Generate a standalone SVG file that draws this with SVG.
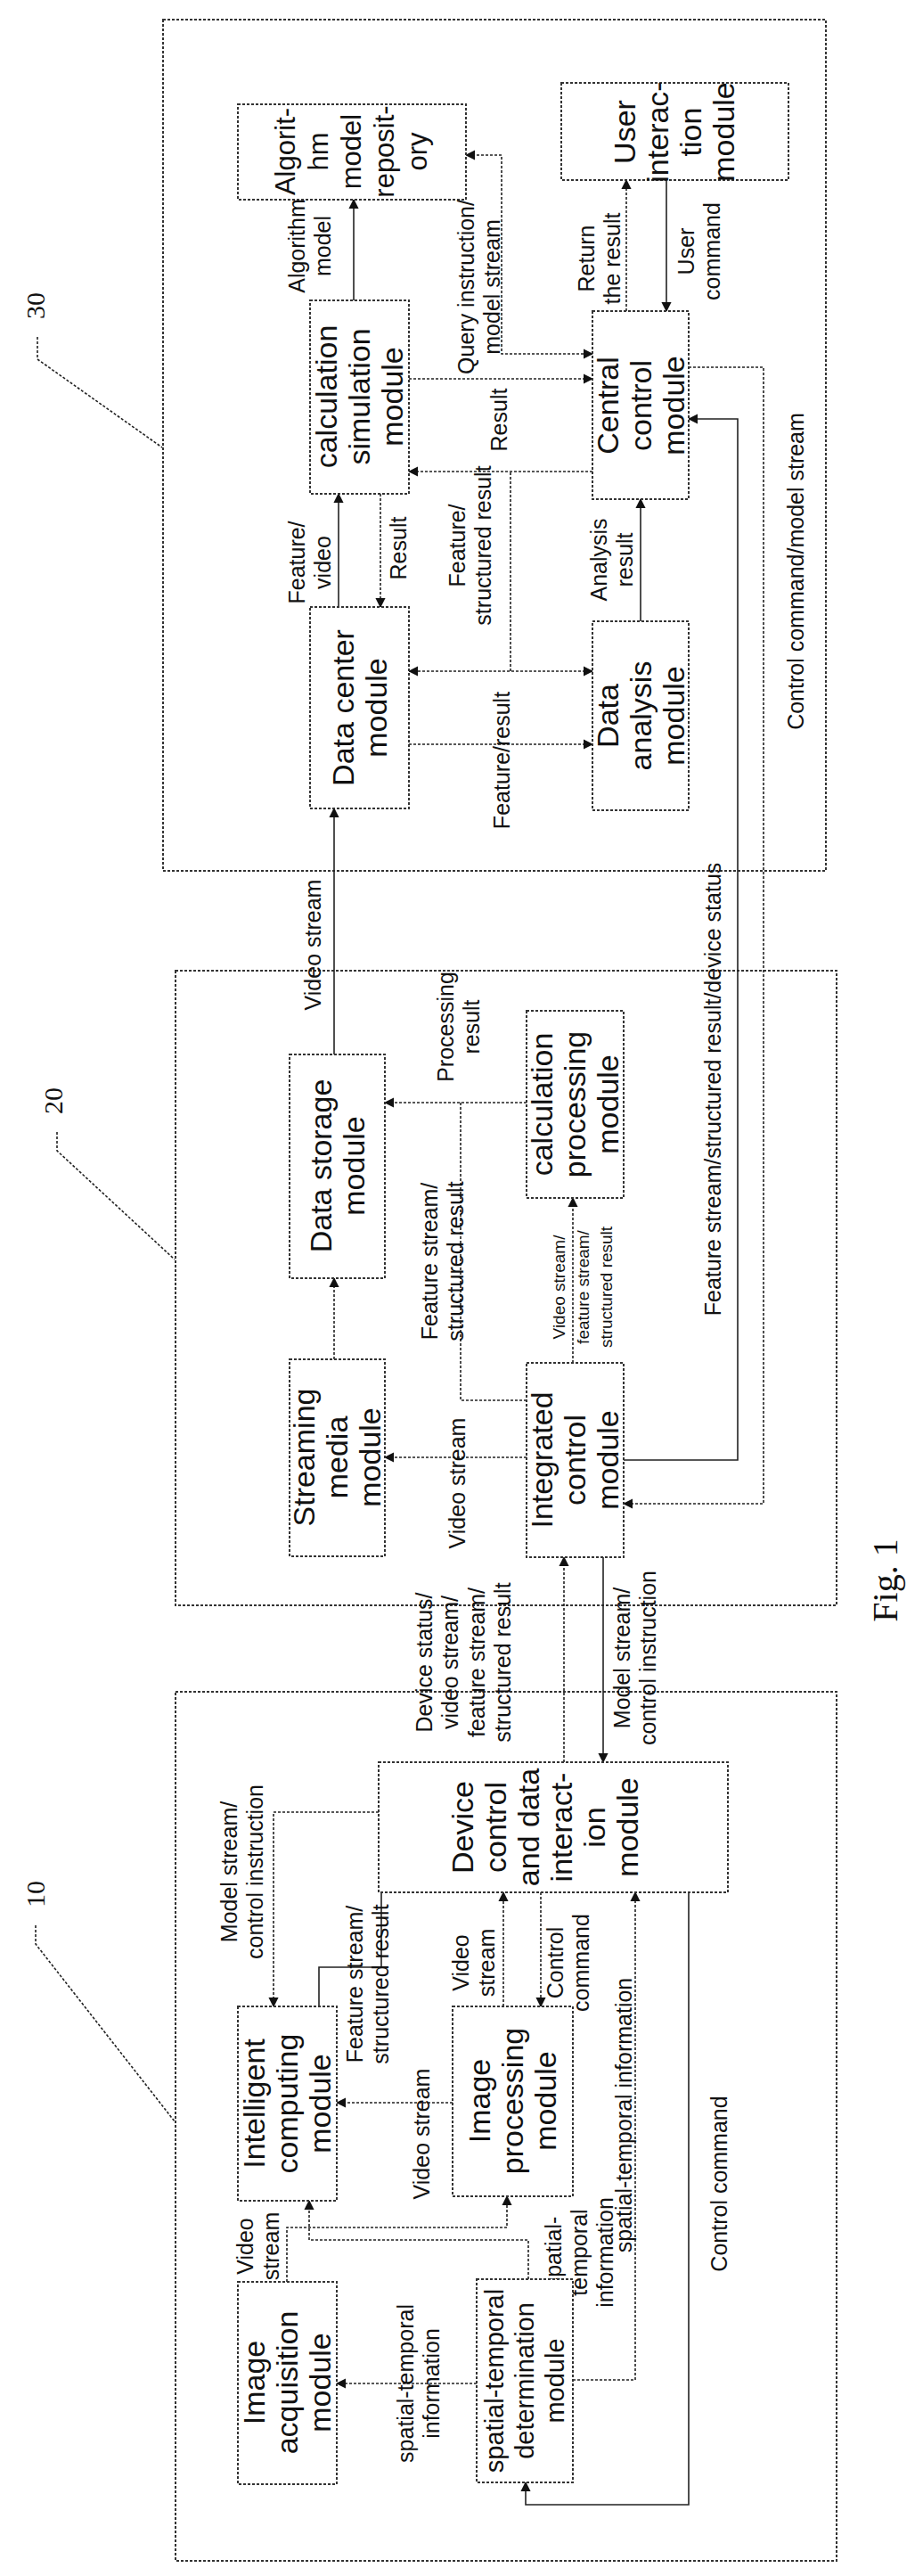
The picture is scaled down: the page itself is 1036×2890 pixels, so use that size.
<svg xmlns="http://www.w3.org/2000/svg" width="1036" height="2890" viewBox="0 0 1036 2890">
<style>
.box{fill:none;stroke:#333;stroke-width:2;stroke-dasharray:3 2}
.n{fill:#fff;stroke:#333;stroke-width:2;stroke-dasharray:3 2}
.c{fill:none;stroke:#222;stroke-width:1.6;stroke-dasharray:3 2}
.s{fill:none;stroke:#222;stroke-width:1.6}
.nt{font-family:"Liberation Sans",Arial,sans-serif;font-size:34px;fill:#111;text-anchor:middle}
.et{font-family:"Liberation Sans",Arial,sans-serif;font-size:25px;fill:#111;text-anchor:middle}
.st{font-family:"Liberation Sans",Arial,sans-serif;font-size:19px;fill:#111;text-anchor:middle}
.rf{font-family:"Liberation Serif","Times New Roman",serif;font-size:30px;fill:#111;text-anchor:middle}
</style>
<defs>
<marker id="a" viewBox="0 0 10 10" refX="9" refY="5" markerWidth="7" markerHeight="7" orient="auto-start-reverse"><path d="M0,0 L10,5 L0,10 z" fill="#111"/></marker>
</defs>
<rect width="1036" height="2890" fill="#fff"/>
<g id="frames">
<rect class="box" x="183" y="22" width="744" height="955"/>
<rect class="box" x="197" y="1089" width="742" height="712"/>
<rect class="box" x="197" y="1898" width="742" height="975"/>
<path class="c" d="M42,378 V403 L182,502 M64,1270 V1291 L196,1413 M40,2160 V2181 L196,2380"/>
<text class="rf" transform="translate(40,343) rotate(-90)" y="10">30</text>
<text class="rf" transform="translate(60,1235) rotate(-90)" y="10">20</text>
<text class="rf" transform="translate(40,2125) rotate(-90)" y="10">10</text>
<text class="rf" style="font-size:40px" transform="translate(993,1773) rotate(-90)" y="14">Fig. 1</text>
</g>
<g id="connectors">
<path class="s" d="M397,337 V224" marker-end="url(#a)"/>
<path class="c" d="M665,397 H563 V174 H523" marker-start="url(#a)" marker-end="url(#a)"/>
<path class="c" d="M459,425 H665" marker-end="url(#a)"/>
<path class="c" d="M665,529 H459" marker-end="url(#a)"/>
<path class="c" d="M459,753 H665" marker-start="url(#a)" marker-end="url(#a)"/>
<path class="c" d="M573,753 V529"/>
<path class="c" d="M459,835 H665" marker-end="url(#a)"/>
<path class="s" d="M380,681 V554" marker-end="url(#a)"/>
<path class="c" d="M427,554 V681" marker-end="url(#a)"/>
<path class="s" d="M719,697 V560" marker-end="url(#a)"/>
<path class="c" d="M703,349 V202" marker-end="url(#a)"/>
<path class="s" d="M748,202 V349" marker-end="url(#a)"/>
<path class="c" d="M773,412 H857 V1687 H700" marker-end="url(#a)"/>
<path class="s" d="M700,1638 H828 V470 H773" marker-end="url(#a)"/>
<path class="s" d="M375,1183 V907" marker-end="url(#a)"/>
<path class="c" d="M375,1525 V1434" marker-end="url(#a)"/>
<path class="c" d="M591,1237 H432" marker-end="url(#a)"/>
<path class="c" d="M591,1571 H517 V1237"/>
<path class="c" d="M591,1635 H432" marker-end="url(#a)"/>
<path class="c" d="M643,1529 V1344" marker-end="url(#a)"/>
<path class="c" d="M633,1977 V1747" marker-end="url(#a)"/>
<path class="s" d="M677,1747 V1977" marker-end="url(#a)"/>
<path class="c" d="M425,2033 H307 V2251" marker-end="url(#a)"/>
<path class="s" d="M358,2251 V2207 H428 V2123"/>
<path class="c" d="M508,2359 H378" marker-end="url(#a)"/>
<path class="c" d="M565,2251 V2123" marker-end="url(#a)"/>
<path class="c" d="M607,2123 V2251" marker-end="url(#a)"/>
<path class="c" d="M643,2670 H713 V2123" marker-end="url(#a)"/>
<path class="c" d="M322,2560 V2499 H569 V2464" marker-end="url(#a)"/>
<path class="c" d="M593,2557 V2513 H347 V2469" marker-end="url(#a)"/>
<path class="c" d="M535,2674 H378" marker-end="url(#a)"/>
<path class="s" d="M773,2123 V2810 H590 V2785" marker-end="url(#a)"/>
</g>
<g id="edge-labels">
<text class="et" transform="translate(348,276) rotate(-90)"><tspan x="0" y="-6">Algorithm</tspan><tspan x="0" y="23">model</tspan></text>
<text class="et" transform="translate(538,322) rotate(-90)"><tspan x="0" y="-6">Query instruction/</tspan><tspan x="0" y="23">model stream</tspan></text>
<text class="et" transform="translate(560,471) rotate(-90)" y="9">Result</text>
<text class="et" transform="translate(673,290) rotate(-90)"><tspan x="0" y="-6">Return</tspan><tspan x="0" y="23">the result</tspan></text>
<text class="et" transform="translate(785,282) rotate(-90)"><tspan x="0" y="-6">User</tspan><tspan x="0" y="23">command</tspan></text>
<text class="et" transform="translate(348,631) rotate(-90)"><tspan x="0" y="-6">Feature/</tspan><tspan x="0" y="23">video</tspan></text>
<text class="et" transform="translate(447,615) rotate(-90)" y="9">Result</text>
<text class="et" transform="translate(528,612) rotate(-90)"><tspan x="0" y="-6">Feature/</tspan><tspan x="0" y="23">structured result</tspan></text>
<text class="et" transform="translate(687,628) rotate(-90)"><tspan x="0" y="-6">Analysis</tspan><tspan x="0" y="23">result</tspan></text>
<text class="et" transform="translate(563,853) rotate(-90)" y="9">Feature/result</text>
<text class="et" transform="translate(893,641) rotate(-90)" y="9">Control command/model stream</text>
<text class="et" transform="translate(351,1060) rotate(-90)" y="9">Video stream</text>
<text class="et" transform="translate(800,1222) rotate(-90)" y="9">Feature stream/structured result/device status</text>
<text class="et" transform="translate(515,1152) rotate(-90)"><tspan x="0" y="-6">Processing</tspan><tspan x="0" y="23">result</tspan></text>
<text class="et" transform="translate(497,1415) rotate(-90)"><tspan x="0" y="-6">Feature stream/</tspan><tspan x="0" y="23">structured result</tspan></text>
<text class="et" transform="translate(513,1664) rotate(-90)" y="9">Video stream</text>
<text class="st" transform="translate(655,1444) rotate(-90)"><tspan x="0" y="-21">Video stream/</tspan><tspan x="0" y="6">feature stream/</tspan><tspan x="0" y="32">structured result</tspan></text>
<text class="et" transform="translate(522,1865) rotate(-90)"><tspan x="0" y="-37">Device status/</tspan><tspan x="0" y="-8">video stream/</tspan><tspan x="0" y="22">feature stream/</tspan><tspan x="0" y="51">structured result</tspan></text>
<text class="et" transform="translate(713,1860) rotate(-90)"><tspan x="0" y="-6">Model stream/</tspan><tspan x="0" y="23">control instruction</tspan></text>
<text class="et" transform="translate(272,2100) rotate(-90)"><tspan x="0" y="-6">Model stream/</tspan><tspan x="0" y="23">control instruction</tspan></text>
<text class="et" transform="translate(413,2226) rotate(-90)"><tspan x="0" y="-6">Feature stream/</tspan><tspan x="0" y="23">structured result</tspan></text>
<text class="et" transform="translate(473,2394) rotate(-90)" y="9">Video stream</text>
<text class="et" transform="translate(532,2202) rotate(-90)"><tspan x="0" y="-6">Video</tspan><tspan x="0" y="23">stream</tspan></text>
<text class="et" transform="translate(638,2202) rotate(-90)"><tspan x="0" y="-6">Control</tspan><tspan x="0" y="23">command</tspan></text>
<text class="et" transform="translate(700,2373) rotate(-90)" y="9">spatial-temporal information</text>
<text class="et" transform="translate(290,2520) rotate(-90)"><tspan x="0" y="-6">Video</tspan><tspan x="0" y="23">stream</tspan></text>
<text class="et" transform="translate(650,2527) rotate(-90)"><tspan x="0" y="-20">spatial-</tspan><tspan x="0" y="9">temporal</tspan><tspan x="0" y="38">information</tspan></text>
<text class="et" transform="translate(470,2674) rotate(-90)"><tspan x="0" y="-6">spatial-temporal</tspan><tspan x="0" y="23">information</tspan></text>
<text class="et" transform="translate(807,2450) rotate(-90)" y="9">Control command</text>
</g>
<g id="algorithm-model-repository">
<rect class="n" x="267" y="117" width="256" height="107"/>
<text class="nt" style="font-size:31px" transform="translate(395,170) rotate(-90)"><tspan x="0" y="-64">Algorit-</tspan><tspan x="0" y="-27">hm</tspan><tspan x="0" y="10">model</tspan><tspan x="0" y="47">reposit-</tspan><tspan x="0" y="84">ory</tspan></text>
</g>
<g id="user-interaction-module">
<rect class="n" x="630" y="93" width="255" height="109"/>
<text class="nt" transform="translate(757,148) rotate(-90)"><tspan x="0" y="-44">User</tspan><tspan x="0" y="-7">interac-</tspan><tspan x="0" y="30">tion</tspan><tspan x="0" y="67">module</tspan></text>
</g>
<g id="calculation-simulation-module">
<rect class="n" x="348" y="337" width="111" height="217"/>
<text class="nt" transform="translate(403,445) rotate(-90)"><tspan x="0" y="-25">calculation</tspan><tspan x="0" y="12">simulation</tspan><tspan x="0" y="49">module</tspan></text>
</g>
<g id="central-control-module">
<rect class="n" x="665" y="349" width="108" height="211"/>
<text class="nt" transform="translate(719,455) rotate(-90)"><tspan x="0" y="-25">Central</tspan><tspan x="0" y="12">control</tspan><tspan x="0" y="49">module</tspan></text>
</g>
<g id="data-center-module">
<rect class="n" x="348" y="681" width="111" height="226"/>
<text class="nt" transform="translate(403,794) rotate(-90)"><tspan x="0" y="-6">Data center</tspan><tspan x="0" y="31">module</tspan></text>
</g>
<g id="data-analysis-module">
<rect class="n" x="665" y="697" width="108" height="212"/>
<text class="nt" transform="translate(719,803) rotate(-90)"><tspan x="0" y="-25">Data</tspan><tspan x="0" y="12">analysis</tspan><tspan x="0" y="49">module</tspan></text>
</g>
<g id="data-storage-module">
<rect class="n" x="325" y="1183" width="107" height="251"/>
<text class="nt" transform="translate(378,1308) rotate(-90)"><tspan x="0" y="-6">Data storage</tspan><tspan x="0" y="31">module</tspan></text>
</g>
<g id="streaming-media-module">
<rect class="n" x="325" y="1525" width="107" height="221"/>
<text class="nt" transform="translate(378,1635) rotate(-90)"><tspan x="0" y="-25">Streaming</tspan><tspan x="0" y="12">media</tspan><tspan x="0" y="49">module</tspan></text>
</g>
<g id="calculation-processing-module">
<rect class="n" x="591" y="1134" width="109" height="210"/>
<text class="nt" transform="translate(645,1239) rotate(-90)"><tspan x="0" y="-25">calculation</tspan><tspan x="0" y="12">processing</tspan><tspan x="0" y="49">module</tspan></text>
</g>
<g id="integrated-control-module">
<rect class="n" x="591" y="1529" width="109" height="218"/>
<text class="nt" transform="translate(645,1638) rotate(-90)"><tspan x="0" y="-25">Integrated</tspan><tspan x="0" y="12">control</tspan><tspan x="0" y="49">module</tspan></text>
</g>
<g id="device-control-module">
<rect class="n" x="425" y="1977" width="392" height="146"/>
<text class="nt" transform="translate(611,2050) rotate(-90)"><tspan x="0" y="-80">Device</tspan><tspan x="0" y="-43">control</tspan><tspan x="0" y="-6">and data</tspan><tspan x="0" y="31">interact-</tspan><tspan x="0" y="68">ion</tspan><tspan x="0" y="105">module</tspan></text>
</g>
<g id="intelligent-computing-module">
<rect class="n" x="267" y="2251" width="111" height="218"/>
<text class="nt" transform="translate(322,2360) rotate(-90)"><tspan x="0" y="-25">Intelligent</tspan><tspan x="0" y="12">computing</tspan><tspan x="0" y="49">module</tspan></text>
</g>
<g id="image-acquisition-module">
<rect class="n" x="267" y="2560" width="111" height="227"/>
<text class="nt" transform="translate(322,2673) rotate(-90)"><tspan x="0" y="-25">Image</tspan><tspan x="0" y="12">acquisition</tspan><tspan x="0" y="49">module</tspan></text>
</g>
<g id="image-processing-module">
<rect class="n" x="508" y="2251" width="135" height="213"/>
<text class="nt" transform="translate(575,2357) rotate(-90)"><tspan x="0" y="-25">Image</tspan><tspan x="0" y="12">processing</tspan><tspan x="0" y="49">module</tspan></text>
</g>
<g id="spatial-temporal-determination-module">
<rect class="n" x="535" y="2557" width="108" height="228"/>
<text class="nt" style="font-size:29px" transform="translate(589,2671) rotate(-90)"><tspan x="0" y="-24">spatial-temporal</tspan><tspan x="0" y="10">determination</tspan><tspan x="0" y="44">module</tspan></text>
</g>
</svg>
